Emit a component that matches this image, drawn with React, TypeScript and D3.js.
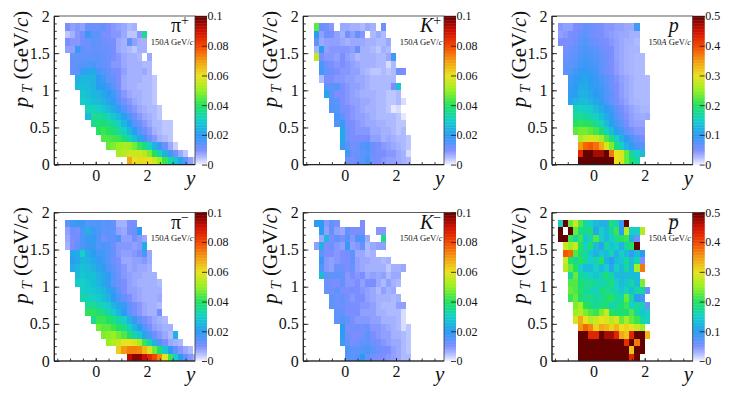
import React, { useEffect, useRef } from "react";
import * as d3 from "d3";

// Each row: [first column, values...], top row is pT 1.8-1.9, last row is pT 0-0.1.
// Values are multiplied by 1000, null is an empty bin.
type Row = (number | null)[];

const piPlusRows: Row[] = [
  [0, 10, 8, 9, 8, 12, 12, 12, 13, 10, 9, 8, 7, 5, 6],
  [0, 4, 6, 9, 11, 18, 14, 14, 10, 10, 9, 9, 7, 4, 4, 9, 35],
  [0, 10, 9, 9, 11, 12, 14, 13, 12, 11, 10, 7, 6, 13, 8, 6, 6],
  [0, 8, 8, 18, 14, 12, 13, 13, 12, 12, 11, 7, 6, 5, 4, 6, 6],
  [1, 13, 13, 13, 14, 14, 14, 13, 12, 10, 9, 7, 6, 6, 5, null, 7],
  [1, 13, 14, 15, 15, 16, 14, 13, 12, 9, 9, 7, 6, 6, 6, 5, 5],
  [1, 13, 14, 18, 22, 22, 17, 15, 13, 11, 10, 8, 6, 6, 6, 7, 5],
  [2, 24, 25, 25, 24, 20, 17, 14, 13, 10, 7, 6, 6, 6, 5, 5, 4],
  [2, 26, 27, 26, 24, 21, 20, 17, 14, 11, 7, 6, 6, 5, 5, 5, 4],
  [3, 28, 27, 25, 24, 22, 20, 17, 13, 9, 7, 6, 6, 5, 5, 4],
  [3, 29, 28, 27, 26, 24, 22, 19, 15, 11, 9, 7, 6, 5, 5, 4],
  [4, 32, 31, 30, 28, 26, 23, 19, 15, 11, 9, 7, 6, 5, 5, 4],
  [4, 26, 35, 35, 34, 31, 28, 25, 21, 16, 12, 9, 7, 6, 5, 4],
  [5, 36, 38, 38, 36, 34, 30, 25, 20, 15, 12, 9, 7, 5, 5, 4, 4],
  [6, 40, 42, 40, 38, 35, 30, 25, 20, 15, 12, 9, 6, 5, 4, 4],
  [7, 44, 44, 43, 42, 38, 32, 27, 22, 17, 12, 9, 6, 5, 4],
  [8, 46, 48, 50, 52, 51, 47, 42, 37, 31, 25, 18, 12, 7, 3],
  [10, 52, 54, 56, 56, 56, 54, 48, 40, 32, 24, 17, 11, 7, 4],
  [12, 68, 60, 61, 61, 60, 57, 50, 42, 34, 28, 22, 14, 8, 3],
];

const kPlusRows: Row[] = [
  [0, 45, 12, 11, 9, null, 7, 7, 6, 6, 5, 7, 6, null, 12],
  [0, 20, 8, 12, 10, 8, 6, 11, 8, 13, 9, null, 5, 7, 5],
  [0, 14, 7, 8, 8, 8, 7, 6, 7, 7, 7, 6, 6, 5, 5, 7],
  [0, 6, 20, 8, 9, 9, 9, 9, 8, 13, 6, 6, 5, 4, 6, 5],
  [0, 55, 10, 9, 9, 8, 10, 8, 7, 5, 6, 6, 6, 5, 5, 7, 17],
  [1, 16, 12, 10, 9, 10, 9, 8, 7, 6, 6, 6, 5, 5, 2, 5],
  [1, 17, 13, 12, 10, 9, 9, 8, 8, 6, 5, 4, 4, 5, 4, 5, 12, 10],
  [1, 5, 10, 10, 9, 9, 8, 8, 7, 7, 6, 5, 5, 5, 5, 5],
  [2, 14, 14, 15, 10, 9, 8, 8, 7, 6, 5, 5, 5, 5, 10, 28],
  [2, 22, 14, 10, 10, 9, 8, 7, 6, 6, 6, 5, 5, 4, 4, 5],
  [3, 15, 14, 10, 9, 8, 8, 7, 7, 6, 5, 5, 4, 4, 5, 2],
  [3, 15, 15, 11, 10, 9, 8, 7, 6, 6, 5, 5, 4, 1, 2],
  [4, 16, 14, 10, 9, 8, 8, 7, 6, 5, 5, 5, 5, 4, 1],
  [4, 15, 18, 11, 10, 9, 8, 7, 7, 6, 6, 5, 5, 4, 4],
  [5, 22, 12, 10, 9, 9, 9, 7, 7, 6, 6, 5, 4, 5],
  [5, 23, 12, 10, 10, 10, 11, 8, 8, 6, 7, 6, 5, 5, 4],
  [5, 18, 15, 11, 12, 15, 16, 12, 10, 9, 8, 7, 6, 5, 4],
  [6, 17, 12, 12, 14, 15, 12, 10, 10, 9, 9, 7, 6, 2],
  [6, 12, 10, 13, 14, 17, 11, 10, 9, 8, 8, 7, 6, 5],
];

const protonRows: Row[] = [
  [0, 45, 40, 40, 50, 55, 65, 60, 55, 50, 45, 45, 40, 40, 35, 35, 85],
  [0, 40, 45, 50, 55, 65, 70, 60, 55, 50, 45, 42, 38, 35, 35, 30, 30],
  [0, 50, 50, 50, 60, 70, 75, 65, 60, 55, 50, 45, 40, 35, 30, 30, 25],
  [1, 55, 60, 65, 75, 80, 75, 70, 60, 55, 50, 40, 35, 30, 28, 28],
  [1, 60, 65, 70, 80, 85, 80, 75, 65, 60, 50, 40, 35, 30, 28, 25, 25],
  [1, 65, 70, 75, 85, 90, 85, 80, 70, 60, 50, 42, 35, 30, 28, 25, 25],
  [1, 70, 75, 85, 95, 95, 90, 85, 70, 60, 50, 42, 35, 30, 28, 25, 25],
  [2, 85, 95, 105, 110, 100, 90, 80, 70, 60, 48, 40, 35, 30, 25, 25, 25],
  [2, 90, 100, 115, 115, 105, 95, 85, 75, 60, 50, 42, 35, 30, 25, 25, 25],
  [2, 95, 105, 120, 120, 110, 100, 90, 75, 65, 50, 42, 35, 30, 25, 25, 25],
  [2, 110, 120, 130, 130, 120, 110, 95, 80, 65, 55, 45, 38, 30, 28, 25, 25],
  [3, 160, 155, 150, 145, 130, 115, 100, 85, 70, 55, 45, 38, 32, 28, 28],
  [3, 175, 175, 170, 165, 150, 135, 115, 95, 75, 60, 48, 40, 35, 32, 35],
  [3, 200, 205, 200, 195, 175, 155, 130, 105, 85, 70, 55, 42, 38, 38],
  [3, 225, 235, 235, 225, 215, 190, 160, 130, 105, 85, 70, 55, 45, 45],
  [4, 260, 280, 290, 280, 260, 220, 185, 150, 120, 100, 80, 65, 55],
  [4, 350, 380, 390, 375, 340, 290, 240, 190, 150, 120, 95, 80, 75],
  [4, 430, 500, 500, 470, 470, 500, 370, 300, 290, 230, 170, 150, 130],
  [4, 500, 500, 500, 500, 500, 500, 500, 300, 290, 230, 190, 170],
];

const piMinusRows: Row[] = [
  [0, 14, 17, 18, 18, 15, 15, 16, 14, 15, 13, 6, 6, 10, 11],
  [0, 8, 12, 10, 16, 24, 17, 16, 14, 14, 13, 8, 7, 11, 12, 20],
  [0, 7, 10, 12, 16, 18, 19, 16, 11, 13, 13, 16, 8, 8, 11, 9, 7],
  [0, 6, 10, 13, 16, 18, 18, 15, 16, 15, 12, 9, 9, 9, 8, 9, 23],
  [1, 22, 23, 30, 23, 20, 17, 17, 15, 13, 9, 8, 8, 9, 11, 16, 7],
  [1, 20, 22, 25, 24, 22, 19, 17, 15, 12, 10, 7, 7, 8, 8, 9, 7],
  [1, 23, 25, 27, 26, 24, 22, 19, 16, 14, 11, 9, 7, 8, 7, 7, 6],
  [2, 26, 28, 27, 27, 24, 22, 19, 15, 12, 9, 8, 7, 7, 6, 6, 6],
  [2, 29, 30, 28, 27, 25, 22, 19, 14, 12, 10, 8, 7, 6, 6, 6, 6, 5],
  [3, 30, 29, 28, 27, 25, 22, 18, 14, 10, 8, 8, 7, 6, 6, 6, 6],
  [3, 33, 32, 30, 29, 27, 24, 20, 16, 13, 10, 8, 7, 6, 6, 6, 7],
  [4, 35, 35, 33, 31, 29, 25, 22, 18, 14, 11, 9, 7, 6, 6, 5],
  [4, 41, 41, 39, 36, 33, 29, 25, 20, 14, 11, 9, 7, 6, 6, 11],
  [5, 36, 42, 42, 40, 37, 33, 30, 24, 18, 14, 11, 9, 7, 6, 5],
  [6, 47, 45, 45, 42, 40, 36, 30, 25, 20, 15, 11, 8, 7, 6, 6],
  [7, 48, 49, 50, 47, 44, 38, 33, 28, 22, 16, 12, 9, 7, 5, 24],
  [8, 50, 54, 55, 60, 60, 58, 52, 42, 32, 24, 16, 10, 7, 6, 5],
  [10, 63, 70, 73, 73, 72, 66, 58, 47, 38, 28, 20, 13, 9, 7, 5],
  [12, 92, 96, 96, 90, 85, 80, 72, 60, 42, 30, 20, 13, 9, 6],
];

const kMinusRows: Row[] = [
  [0, 20, 20, 9, 13, 11, null, null, null, null, 10],
  [1, 20, 8, 13, 8, 7, 13, 10, 10, 10, null, null, 9, 9],
  [1, 7, 26, 10, 14, 10, 15, 9, 16, 16, 7, null, null, 36],
  [0, 8, 24, 10, 12, 9, 8, 18, 8, 9, 13, 5, 7, 8, 8],
  [1, 14, 10, 10, 9, 10, 11, 14, 7, 7, 5, 6],
  [1, 18, 9, 8, 9, 10, 10, 13, 8, 7, 7, 6, 6, 5, 6],
  [1, 16, 9, 8, 12, 12, 10, 12, 8, 7, 6, 6, 6, 6, 4, 6, 6, 7],
  [1, 26, 14, 14, 14, 13, 9, 10, 9, 10, 7, 8, 7, 8, 5, 7, 7],
  [2, 12, 11, 10, 13, 9, 9, 10, 8, 10, 10, 7, 5, 8, 6, 5],
  [2, 12, 11, 14, 10, 10, 11, 10, 9, 8, 7, 5, 8, 6, 7],
  [3, 14, 12, 13, 11, 9, 10, 10, 8, 7, 6, 6, 6, 5, 6],
  [3, 14, 12, 12, 11, 10, 10, 9, 9, 8, 6, 5, 5, 5, 8, 8],
  [4, 14, 13, 10, 10, 11, 8, 8, 8, 6, 6, 5, 5, 5, 2],
  [4, 13, 15, 13, 10, 9, 9, 9, 8, 8, 6, 6, 6, 5, 2],
  [5, 20, 11, 11, 12, 11, 12, 9, 9, 8, 7, 6, 5, 2, 4],
  [5, 20, 12, 10, 10, 11, 14, 10, 9, 8, 8, 6, 6, 5, 4],
  [5, 17, 13, 11, 12, 13, 14, 12, 11, 9, 8, 7, 7, 5, 4],
  [6, 16, 14, 14, 15, 16, 14, 12, 11, 10, 8, 7, 5, 4],
  [6, 15, 14, 15, 20, 13, 11, 10, 10, 9, 8, 7, 5, 5],
];

const antiProtonRows: Row[] = [
  [0, 150, 500, 230, 280, 220, 170, 150, 130, 120, 120, 190, 160, 90, 500],
  [0, 500, null, 500, 230, 190, 170, 190, 110, 150, 130, 170, 210, 100, 270, 150, 150, 270],
  [0, 500, 500, 210, 170, 210, 140, 160, 220, 150, 130, 150, 180, 200, 210, 120, 60],
  [1, 280, 250, 280, 200, 150, 190, 130, 110, 170, 140, 150, 120, 170, 200, 500],
  [1, 390, 380, 220, 190, 170, 140, 120, 140, 130, 160, 120, 150, 130, 95, 130, 100],
  [1, 280, 200, 170, 200, 170, 150, 160, 200, 120, 100, 130, 140, 170, 130, 160, 50],
  [1, 270, 230, 200, 150, 130, 130, 150, 130, 150, 110, 150, 130, 170, 130, 260, 370],
  [2, 170, 230, 170, 160, 150, 140, 160, 190, 160, 130, 130, 130, 130, 130],
  [2, 220, 220, 190, 180, 180, 170, 160, 170, 190, 150, 130, 140, 170, 130, 240],
  [2, 230, 220, 200, 170, 170, 150, 190, 180, 170, 160, 140, 160, 130, 170, 170, 60],
  [2, 210, 230, 190, 180, 180, 170, 170, 190, 200, 170, 170, 230, 170, 100, 85],
  [3, 240, 260, 200, 190, 170, 190, 190, 160, 170, 190, 210, 150, 170, 160, 60],
  [3, 250, 270, 240, 220, 210, 240, 280, 200, 190, 190, 190, 220, 170, 140, 150],
  [3, 290, 340, 300, 270, 280, 300, 290, 270, 290, 230, 260, 230, 210, 170, 150],
  [4, 350, 380, 360, 310, 340, 330, 310, 330, 300, 310, 300, 280, 250],
  [4, 500, 500, 430, 430, 500, 470, 470, 430, 340, 320, 430, 500, 500, 330],
  [4, 500, 500, 500, 500, 500, 500, 500, 500, 500, 420, 500, 370, 500],
  [4, 500, 500, 500, 500, 500, 500, 500, 500, 500, 500, 320, 500, 500],
  [4, 500, 500, 500, 500, 500, 500, 500, 500, 500, 500, 430, 500],
];

const paletteStops = [0, 0.05, 0.1, 0.2, 0.3, 0.4, 0.5, 0.6, 0.7, 0.8, 0.9, 1];
const paletteColors = [
  "#f4f4ff", "#aebaff", "#7c8eff", "#2a9cf4", "#12d0c8", "#22e260", "#96f022",
  "#eae21e", "#f29a10", "#f44400", "#d01000", "#640000",
];

const yTicks = [0, 0.5, 1, 1.5, 2];
const yMinor = d3.range(0, 2.01, 0.1);
const xTicks = [0, 2];
const xMinor = [-1.5, -1, -0.5, 0, 0.5, 1, 1.5, 2, 2.5, 3, 3.5];
const scaleLow = [0, 0.02, 0.04, 0.06, 0.08, 0.1];
const scaleHigh = [0, 0.1, 0.2, 0.3, 0.4, 0.5];

const serif = "'Liberation Serif', serif";
const plotW = 140.7;
const plotH = 148.6;
const barW = 12;

type PanelDef = {
  left: number;
  top: number;
  rows: Row[];
  firstBin: number;
  max: number;
  ticks: number[];
  name: string;
  sup?: string;
  italic?: boolean;
  bar?: boolean;
};

const panels: PanelDef[] = [
  { left: 54.3, top: 16, rows: piPlusRows, firstBin: -1.2, max: 0.1, ticks: scaleLow, name: "π", sup: "+" },
  { left: 303.3, top: 16, rows: kPlusRows, firstBin: -1.2, max: 0.1, ticks: scaleLow, name: "K", sup: "+", italic: true },
  { left: 552, top: 16, rows: protonRows, firstBin: -1.4, max: 0.5, ticks: scaleHigh, name: "p", italic: true },
  { left: 54.3, top: 212.4, rows: piMinusRows, firstBin: -1.2, max: 0.1, ticks: scaleLow, name: "π", sup: "−" },
  { left: 303.3, top: 212.4, rows: kMinusRows, firstBin: -1.2, max: 0.1, ticks: scaleLow, name: "K", sup: "−", italic: true },
  { left: 552, top: 212.4, rows: antiProtonRows, firstBin: -1.4, max: 0.5, ticks: scaleHigh, name: "p", italic: true, bar: true },
];

function drawPanel(root: any, p: PanelDef) {
  const g = root.append("g").attr("transform", `translate(${p.left},${p.top})`);
  const x = d3.scaleLinear().domain([-1.615, 3.87]).range([0, plotW]);
  const y = d3.scaleLinear().domain([0, 2]).range([plotH, 0]);
  const color = d3
    .scaleLinear<string>()
    .domain(paletteStops.map((s) => s * p.max))
    .range(paletteColors)
    .clamp(true);

  const clipId = `clip-${p.left}-${p.top}`.replace(/\./g, "_");
  g.append("clipPath").attr("id", clipId).append("rect").attr("width", plotW).attr("height", plotH);

  // cells
  const cells = g
    .append("g")
    .attr("clip-path", `url(#${clipId})`)
    .append("g")
    .attr("filter", "url(#soft)")
    .attr("shape-rendering", "crispEdges");
  p.rows.forEach((row, i) => {
    const pt = (p.rows.length - 1 - i) * 0.1;
    const start = row[0] as number;
    row.slice(1).forEach((v, j) => {
      if (v === null) return;
      const y0 = p.firstBin + (start + j) * 0.2;
      cells
        .append("rect")
        .attr("x", x(y0))
        .attr("width", x(y0 + 0.2) - x(y0))
        .attr("y", y(pt + 0.1))
        .attr("height", y(pt) - y(pt + 0.1))
        .attr("fill", color((v as number) / 1000));
    });
  });

  // colour bar
  const barScale = d3.scaleLinear().domain([0, p.max]).range([plotH, 0]);
  const levels = d3.range(0, 100).map((k) => (k / 100) * p.max);
  const bar = g.append("g").attr("transform", `translate(${plotW},0)`);
  bar
    .selectAll("rect")
    .data(levels)
    .enter()
    .append("rect")
    .attr("width", barW)
    .attr("y", (d: number) => barScale(d + p.max / 100) - 0.2)
    .attr("height", plotH / 100 + 0.4)
    .attr("fill", (d: number) => color(d + p.max / 200));

  // frame
  g.append("rect")
    .attr("width", plotW)
    .attr("height", plotH)
    .attr("fill", "none")
    .attr("stroke", "#333")
    .attr("stroke-width", 0.8);

  const axisStyle = (a: any) => {
    a.select(".domain").remove();
    a.selectAll("line").attr("stroke", "#222").attr("stroke-width", 0.9);
  };
  const labelStyle = (a: any) =>
    a.selectAll("text").attr("font-family", serif).attr("font-size", 16).attr("fill", "#111");

  // left axis, ticks pointing inwards
  g.append("g").call(d3.axisLeft(y).tickValues(yMinor).tickSize(-2.5).tickFormat(() => "")).call(axisStyle);
  g.append("g")
    .call(d3.axisLeft(y).tickValues(yTicks).tickSize(-5).tickPadding(4.5).tickFormat((d: any) => String(d)))
    .call(axisStyle)
    .call(labelStyle);

  // bottom axis
  g.append("g")
    .attr("transform", `translate(0,${plotH})`)
    .call(d3.axisBottom(x).tickValues(xMinor).tickSize(-2.5).tickFormat(() => ""))
    .call(axisStyle);
  g.append("g")
    .attr("transform", `translate(0,${plotH})`)
    .call(d3.axisBottom(x).tickValues(xTicks).tickSize(-3).tickPadding(5).tickFormat((d: any) => String(d)))
    .call(axisStyle)
    .call(labelStyle);
  g.append("line").attr("x1", 0).attr("x2", plotW).attr("y1", plotH).attr("y2", plotH).attr("stroke", "#222").attr("stroke-width", 1.2);
  g.append("line").attr("x1", 0).attr("x2", 0).attr("y1", 0).attr("y2", plotH).attr("stroke", "#222").attr("stroke-width", 1.2);

  // colour bar axis
  bar
    .append("g")
    .attr("transform", `translate(${barW},0)`)
    .call(d3.axisRight(barScale).tickValues(p.ticks).tickSize(-5).tickPadding(6).tickFormat((d: any) => String(d)))
    .call(axisStyle)
    .call((a: any) => a.selectAll("text").attr("font-family", serif).attr("font-size", 12).attr("fill", "#111").attr("x", 0.5));

  // axis titles
  const yTitle = g
    .append("text")
    .attr("transform", `translate(-26,43) rotate(-90)`)
    .attr("text-anchor", "middle")
    .attr("font-family", serif)
    .attr("font-size", 21)
    .attr("fill", "#111");
  yTitle.append("tspan").attr("font-style", "italic").text("p");
  yTitle.append("tspan").attr("font-style", "italic").attr("font-size", 15).attr("dy", 4).text(" T");
  yTitle.append("tspan").attr("dy", -4).text(" (GeV/");
  yTitle.append("tspan").attr("font-style", "italic").text("c");
  yTitle.append("tspan").text(")");

  g.append("text")
    .attr("x", plotW - 9)
    .attr("y", plotH + 20)
    .attr("font-family", serif)
    .attr("font-style", "italic")
    .attr("font-size", 21)
    .attr("fill", "#111")
    .text("y");

  // particle label
  const label = g
    .append("text")
    .attr("x", plotW - 24)
    .attr("y", 16.3)
    .attr("font-family", serif)
    .attr("font-size", 20)
    .attr("fill", "#111");
  label.append("tspan").attr("font-style", p.italic ? "italic" : "normal").text(p.name);
  if (p.sup) label.append("tspan").attr("font-size", 14).attr("dy", -7).text(p.sup);
  if (p.bar) {
    g.append("line")
      .attr("x1", plotW - 24)
      .attr("x2", plotW - 15)
      .attr("y1", 6.5)
      .attr("y2", 6.5)
      .attr("stroke", "#111")
      .attr("stroke-width", 0.9);
  }

  const energy = g
    .append("text")
    .attr("x", plotW - 1.5)
    .attr("y", 28.8)
    .attr("text-anchor", "end")
    .attr("font-family", serif)
    .attr("font-size", 8.6)
    .attr("fill", "#111");
  energy.append("tspan").text("150");
  energy.append("tspan").attr("font-style", "italic").text("A");
  energy.append("tspan").text(" GeV/");
  energy.append("tspan").attr("font-style", "italic").text("c");
}

const App = () => {
  const svgRef = useRef<SVGSVGElement | null>(null);

  useEffect(() => {
    const svg = d3.select(svgRef.current);
    svg.selectAll("*").remove();
    const blur = svg.append("defs").append("filter").attr("id", "soft");
    blur.append("feGaussianBlur").attr("stdDeviation", 0.4);
    panels.forEach((p) => drawPanel(svg, p));
  }, []);

  return (
    <svg
      ref={svgRef}
      width={747}
      height={394}
      style={{ position: "absolute", left: 0, top: 0, background: "#fff" }}
    />
  );
};

export default App;
